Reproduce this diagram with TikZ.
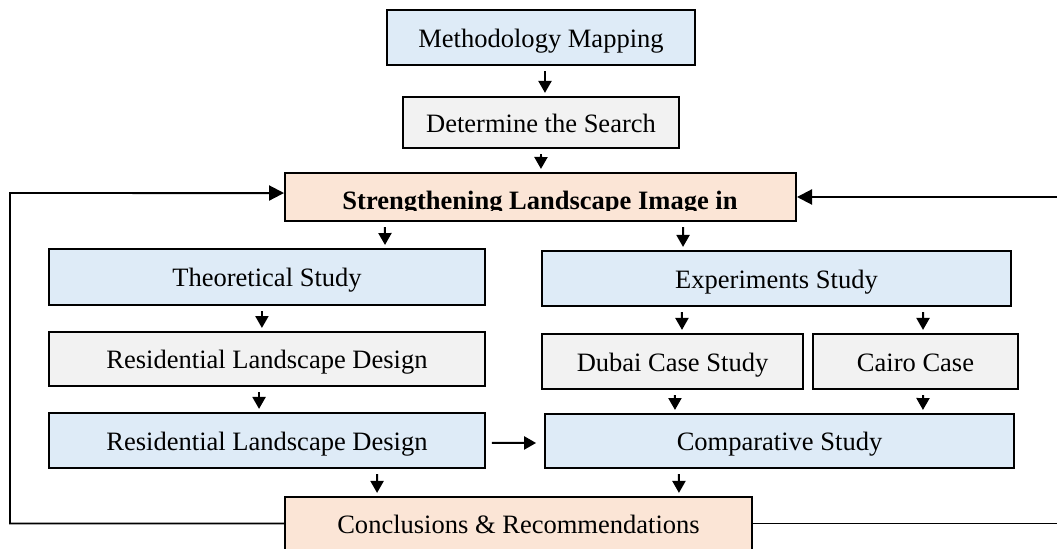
\documentclass[tikz,border=0pt]{standalone}
\usepackage{fontspec}
\setmainfont{Liberation Serif}
\usetikzlibrary{arrows.meta}
\definecolor{bluef}{HTML}{DEEBF7}
\definecolor{grayf}{HTML}{F2F2F2}
\definecolor{peachf}{HTML}{FBE5D6}
\begin{document}
\begin{tikzpicture}[x=0.4525pt,y=-0.4525pt,
  font=\fontsize{12}{14}\selectfont,
  box/.style={draw=black, line width=0.9pt, inner sep=0pt, align=center,
              text height=10pt, text depth=1pt},
  bluebox/.style={box, fill=bluef},
  graybox/.style={box, fill=grayf},
  peachbox/.style={box, fill=peachf},
  arr/.style={line width=0.9pt, -{Triangle[length=5.4pt,width=5.9pt]},
              shorten <=2.3pt, shorten >=1.4pt},
  fb/.style={line width=0.9pt},
  fbarr/.style={line width=0.9pt, -{Triangle[length=6.8pt,width=6.8pt]}},
]
\useasboundingbox (0,0) rectangle (1057,549);
\clip (0,0) rectangle (1057,549);

% boxes
\node[bluebox, minimum width=139.4pt, minimum height=24.9pt] (mm) at (541,37.5) {Methodology Mapping};
\node[graybox, minimum width=124.9pt, minimum height=23.1pt] (ds) at (541,122.5) {Determine the Search};
\node[peachbox, minimum width=231.2pt, minimum height=21.7pt] (sl) at (540.5,197) {};
\begin{scope}
  \clip (290,176) rectangle (790,211);
  \node[anchor=base, inner sep=0pt, font=\fontsize{12}{14}\selectfont\bfseries] (slt) at (540,209.5) {Strengthening Landscape Image in};
\end{scope}

\node[bluebox, minimum width=197.3pt, minimum height=25.3pt] (ts) at (267,277) {Theoretical Study};
\node[graybox, minimum width=197.3pt, minimum height=24.4pt] (r1) at (267,359) {Residential Landscape Design};
\node[bluebox, minimum width=197.3pt, minimum height=24.9pt] (r2) at (267,440.5) {Residential Landscape Design};

\node[bluebox, minimum width=212.2pt, minimum height=24.9pt] (es) at (776.5,278.5) {Experiments Study};
\node[graybox, minimum width=118.1pt, minimum height=24.9pt] (dc) at (672.5,361.5) {Dubai Case Study};
\node[graybox, minimum width=92.8pt, minimum height=24.9pt] (cc) at (915.5,361.5) {Cairo Case};
\node[bluebox, minimum width=212.2pt, minimum height=24.4pt] (cs) at (779.5,441) {Comparative Study};

\node[peachbox, minimum width=211.3pt, minimum height=24pt] (cr) at (518.5,523.5) {Conclusions \& Recommendations};

% arrows
\draw[arr] ([xshift=1.8pt]mm.south) -- ([xshift=1.8pt]ds.north);
\draw[arr] (ds.south) -- ([xshift=0.2pt]sl.north);
\draw[arr] ([xshift=-70.4pt]sl.south) -- ([xshift=53.4pt]ts.north);
\draw[arr] ([xshift=64.5pt]sl.south) -- ([xshift=-42.3pt]es.north);
\draw[arr] ([xshift=-2.3pt]ts.south) -- ([xshift=-2.3pt]r1.north);
\draw[arr] ([xshift=-3.6pt]r1.south) -- ([xshift=-3.6pt]r2.north);
\draw[arr] ([xshift=49.8pt]r2.south) -- ([xshift=-64pt]cr.north);
\draw[arr] ([xshift=-42.8pt]es.south) -- ([xshift=4.3pt]dc.north);
\draw[arr] ([xshift=66.3pt]es.south) -- ([xshift=3.4pt]cc.north);
\draw[arr] ([xshift=1.1pt]dc.south) -- ([xshift=-47.3pt]cs.north);
\draw[arr] ([xshift=3.4pt]cc.south) -- ([xshift=64.9pt]cs.north);
\draw[arr] ([xshift=-45.5pt]cs.south) -- ([xshift=72.6pt]cr.north);
\draw[arr, shorten <=2.7pt, shorten >=3.6pt] ([yshift=-1.1pt]r2.east) -- ([yshift=-0.9pt]cs.west);

% feedback loops
\coordinate (fl) at (10,193);
\coordinate (fr) at (1062,197);
\draw[fbarr] (cr.west) -| (fl) -- ([yshift=1.8pt]sl.west);
\draw[fb] (cr.east) -- (cr.east -| fr);
\draw[fbarr] (fr) -- (sl.east);
\end{tikzpicture}
\end{document}
